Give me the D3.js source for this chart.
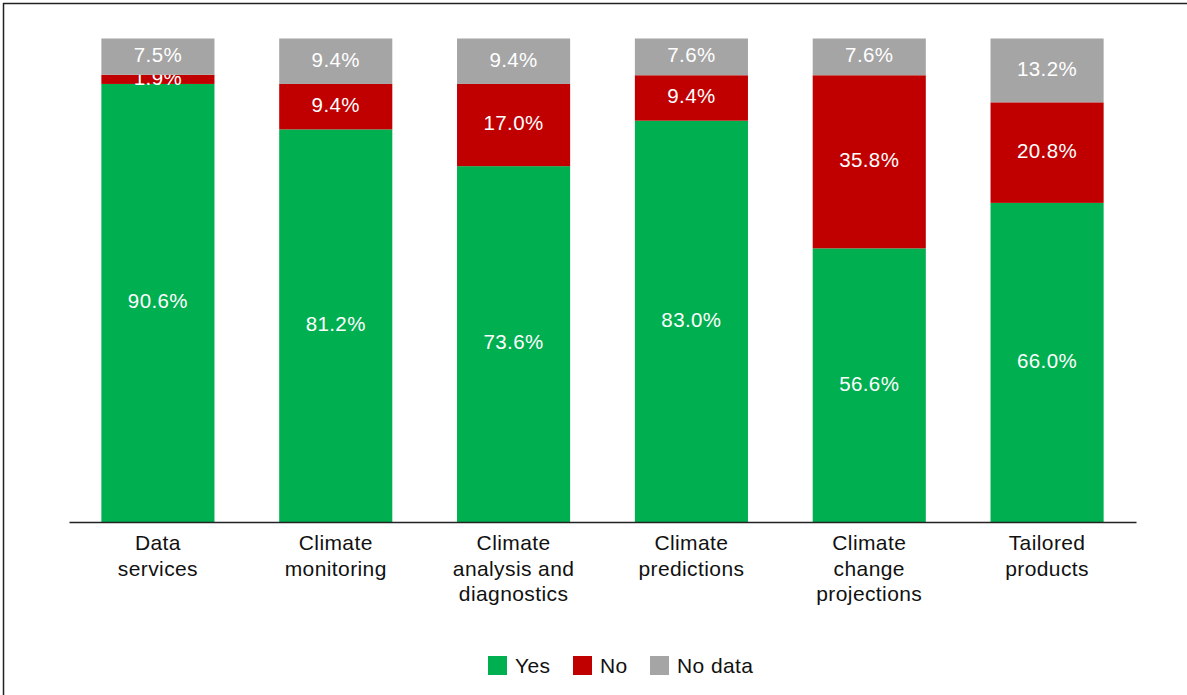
<!DOCTYPE html>
<html>
<head>
<meta charset="utf-8">
<script src="https://cdn.jsdelivr.net/npm/d3@7"></script>
<style>
  html, body { margin: 0; padding: 0; background: #fff; }
  svg { display: block; font-family: "Liberation Sans", Arial, sans-serif; }
</style>
</head>
<body>
<svg id="chart" width="1187" height="695"></svg>
<script>
// Share of services provided (%), stacked per category
const categories = [
  ["Data", "services"],
  ["Climate", "monitoring"],
  ["Climate", "analysis and", "diagnostics"],
  ["Climate", "predictions"],
  ["Climate", "change", "projections"],
  ["Tailored", "products"]
];
const yesValues    = [90.6, 81.2, 73.6, 83.0, 56.6, 66.0];
const noValues     = [1.9, 9.4, 17.0, 9.4, 35.8, 20.8];
const noDataValues = [7.5, 9.4, 9.4, 7.6, 7.6, 13.2];
const seriesNames  = ["Yes", "No", "No data"];
const seriesColors = ["#00AF50", "#C00000", "#A5A5A5"];

const svg = d3.select("#chart");
const W = 1187, H = 695;

// frame lines (top and left)
svg.append("line").attr("x1", 3).attr("x2", W).attr("y1", 3.5).attr("y2", 3.5)
  .attr("stroke", "#222").attr("stroke-width", 1.5);
svg.append("line").attr("x1", 3.5).attr("x2", 3.5).attr("y1", 3).attr("y2", H)
  .attr("stroke", "#222").attr("stroke-width", 1.5);

const margin = { left: 69, right: 51, top: 38.5, bottom: 173 };
const x = d3.scaleBand()
  .domain(d3.range(categories.length))
  .range([margin.left, W - margin.right])
  .paddingInner(0.364).paddingOuter(0.182);
const y = d3.scaleLinear().domain([0, 100]).range([H - margin.bottom, margin.top]);

const rows = categories.map((c, i) => ({
  i, Yes: yesValues[i], No: noValues[i], "No data": noDataValues[i]
}));
const stack = d3.stack().keys(seriesNames)(rows);

const layers = svg.append("g").selectAll("g").data(stack).join("g")
  .attr("fill", (d, k) => seriesColors[k]);

layers.selectAll("rect").data(d => d).join("rect")
  .attr("x", d => x(d.data.i))
  .attr("width", x.bandwidth())
  .attr("y", d => y(d[1]))
  .attr("height", d => y(d[0]) - y(d[1]));

// value labels
layers.each(function(layer) {
  d3.select(this).selectAll("text").data(layer).join("text")
    .attr("x", d => x(d.data.i) + x.bandwidth() / 2)
    .attr("y", d => (y(d[0]) + y(d[1])) / 2 - 2)
    .attr("dy", "0.36em")
    .attr("text-anchor", "middle")
    .attr("fill", "#fff")
    .attr("font-size", 20.5)
    .attr("letter-spacing", 0.4)
    .text(d => d.data[layer.key].toFixed(1) + "%");
});

// category axis
const axis = svg.append("g").attr("transform", `translate(0,${y(0)})`)
  .call(d3.axisBottom(x).tickSize(0).tickFormat(""));
axis.select(".domain").attr("stroke", "#222").attr("stroke-width", 1.5);

const catLabels = svg.append("g").selectAll("text").data(categories).join("text")
  .attr("x", (d, i) => x(i) + x.bandwidth() / 2)
  .attr("y", y(0) + 28)
  .attr("text-anchor", "middle")
  .attr("fill", "#111")
  .attr("font-size", 21)
  .attr("letter-spacing", 0.4);
catLabels.each(function(lines) {
  d3.select(this).selectAll("tspan").data(lines).join("tspan")
    .attr("x", d3.select(this).attr("x"))
    .attr("dy", (d, j) => j === 0 ? 0 : 25.5)
    .text(d => d);
});

// legend
const legendItems = [
  { name: seriesNames[0], color: seriesColors[0], x: 488 },
  { name: seriesNames[1], color: seriesColors[1], x: 573 },
  { name: seriesNames[2], color: seriesColors[2], x: 650 }
];
const legend = svg.append("g").selectAll("g").data(legendItems).join("g")
  .attr("transform", d => `translate(${d.x},656)`);
legend.append("rect").attr("width", 19).attr("height", 19).attr("fill", d => d.color);
legend.append("text").attr("x", 27).attr("y", 9.5).attr("dy", "0.36em")
  .attr("font-size", 21).attr("letter-spacing", 0.4)
  .attr("fill", "#111").text(d => d.name);
</script>
</body>
</html>
